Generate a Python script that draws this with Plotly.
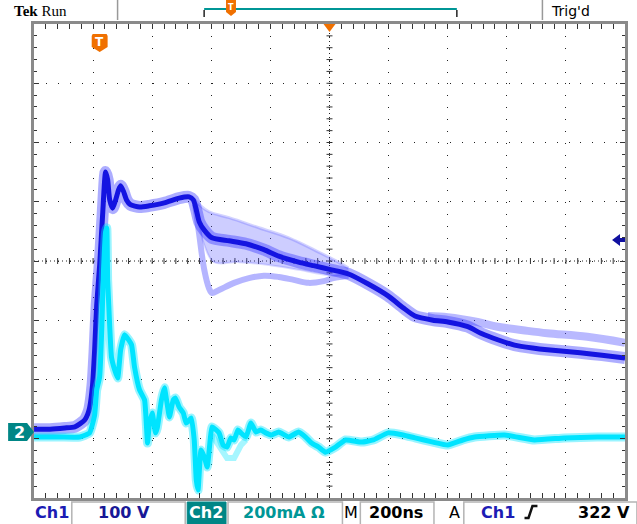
import plotly.graph_objects as go

# ---------------- data (time in ns relative to trigger) ----------------
# Ch1 (V) dense core of the persistence trace
ch1_t = [-222, -168, -118, -84, -67, -50, -40, -34, -24, -17, -10, 0, 10, 17, 20, 27, 34, 44, 54, 64,
         71, 81, 91, 104, 135, 168, 219, 269, 303, 317, 327, 337, 354, 380, 438, 495, 556, 606, 673,
         724, 785, 842, 909, 976, 1027, 1067, 1128, 1178, 1246, 1290, 1347, 1404, 1465, 1515, 1626,
         1700, 1778]
ch1_v = [3, 3, 5, 7, 12, 19, 29, 39, 78, 137, 213, 280, 365, 424, 437, 424, 390, 376, 390, 407,
         414, 404, 390, 382, 378, 380, 385, 393, 395, 390, 373, 353, 339, 326, 321, 316, 306, 295, 285,
         279, 272, 265, 248, 228, 208, 194, 187, 184, 176, 165, 154, 145, 140, 137, 132,
         128, 123]

# Ch1 faint spread region after the step (upper and lower envelope)
ch1_env_t = [323, 337, 370, 438, 539, 640, 741, 808, 842]
ch1_env_hi = [390, 382, 370, 360, 343, 326, 302, 285, 275]
ch1_env_lo_t = [323, 354, 387, 471, 572, 673, 774, 842]
ch1_env_lo = [382, 314, 285, 285, 280, 272, 263, 262]

# Ch1 faint lower branch
ch1_low_t = [323, 337, 354, 370, 380, 404, 455, 505, 556, 606, 657, 707, 758, 791, 842]
ch1_low_v = [382, 331, 272, 241, 233, 238, 250, 258, 262, 260, 255, 250, 253, 258, 262]

# Ch1 faint upper branch in the tail
ch1_tail_t = [1111, 1178, 1279, 1347, 1448, 1515, 1650, 1778]
ch1_tail_v = [194, 192, 184, 176, 169, 165, 159, 149]

# Ch2 (mA)
ch2_t = [-222, -135, -67, -34, -17, -10, 0, 7, 13, 20, 24, 27, 30, 40, 51, 61, 71, 84, 98, 108,
         118, 135, 152, 162, 168, 178, 189, 195, 209, 219, 229, 236, 249, 256, 269, 283, 293, 310,
         320, 327, 333, 343, 354, 364, 374, 380, 394, 404, 418, 431, 444, 455, 468, 478, 495, 512,
         529, 545, 562, 582, 606, 640, 673, 697, 717, 741, 764, 798, 832, 886, 926, 976, 1027, 1067,
         1128, 1178, 1229, 1269, 1370, 1471, 1572, 1684, 1778]
ch2_i = [-17, -17, -17, -3, 57, 142, 186, 344, 547, 675, 689, 513, 446, 253, 209, 182, 277, 328, 311, 294,
         219, 142, 108, -37, 24, 64, -3, 14, 108, 149, 91, 51, 108, 115, 84, 64, 30, 47,
         -27, -162, -196, -61, -84, -118, -27, 17, 7, -3, -44, -51, -20, -27, 7, -3, -17, 30,
         0, 7, -3, -10, 0, -17, 0, -17, -37, -51, -68, -51, -27, -34, -27, -3, -10, -20,
         -34, -44, -27, -17, -10, -27, -20, -17, -17]
ch2_faint_t = [380, 404, 431, 455, 478, 495]
ch2_faint_i = [-10, -44, -88, -88, -44, -27]

# ---------------- scope settings ----------------
T_RANGE = [-222.2, 1777.8]      # 10 div x 200 ns
V_RANGE = [-113.1, 686.9]       # 8 div x 100 V
I_RANGE = [-222.8, 1377.2]      # 8 div x 200 mA

W, H = 637, 524
PL, PR, PT, PB = 34, 628, 24, 498


def px(x):
    return (x - PL) / (PR - PL)


def py(y):
    return (PB - y) / (PB - PT)


fig = go.Figure()

CH2 = "rgb(0,228,255)"
# Ch2 traces
fig.add_trace(go.Scatter(x=ch2_faint_t, y=ch2_faint_i, yaxis="y2", mode="lines",
                         line=dict(color="rgba(0,228,255,0.35)", width=6), hoverinfo="skip"))
fig.add_trace(go.Scatter(x=ch2_t, y=ch2_i, yaxis="y2", mode="lines",
                         line=dict(color="rgba(0,228,255,0.4)", width=9, shape="spline", smoothing=0.4),
                         hoverinfo="skip"))
fig.add_trace(go.Scatter(x=ch2_t, y=ch2_i, yaxis="y2", mode="lines",
                         line=dict(color=CH2, width=5, shape="spline", smoothing=0.4), hoverinfo="skip"))

# Ch1 traces
fig.add_trace(go.Scatter(x=ch1_env_t, y=ch1_env_hi, mode="lines",
                         line=dict(color="rgba(80,80,255,0.25)", width=3, shape="spline"), hoverinfo="skip"))
fig.add_trace(go.Scatter(x=ch1_env_lo_t, y=ch1_env_lo, mode="lines", fill="tonexty",
                         fillcolor="rgba(90,90,255,0.3)",
                         line=dict(color="rgba(80,80,255,0.2)", width=2, shape="spline"), hoverinfo="skip"))
fig.add_trace(go.Scatter(x=ch1_low_t, y=ch1_low_v, mode="lines",
                         line=dict(color="rgba(90,90,255,0.45)", width=6, shape="spline"), hoverinfo="skip"))
fig.add_trace(go.Scatter(x=ch1_tail_t, y=ch1_tail_v, mode="lines",
                         line=dict(color="rgba(80,80,255,0.4)", width=8, shape="spline"), hoverinfo="skip"))
fig.add_trace(go.Scatter(x=ch1_t, y=ch1_v, mode="lines",
                         line=dict(color="rgba(50,50,255,0.4)", width=12, shape="spline", smoothing=0.6),
                         hoverinfo="skip"))
fig.add_trace(go.Scatter(x=ch1_t, y=ch1_v, mode="lines",
                         line=dict(color="rgb(20,20,225)", width=5, shape="spline", smoothing=0.6),
                         hoverinfo="skip"))

GRID_DASH = "1px,10.88px"
axis_common = dict(showticklabels=False, showline=True, linecolor="#8a8a8a", linewidth=3,
                   mirror="allticks", ticks="inside", ticklen=5, tickcolor="#333", tickwidth=1,
                   showgrid=True, gridcolor="#222", gridwidth=1, griddash=GRID_DASH,
                   zeroline=False, fixedrange=True)

shapes = []
# center cross hair with minor ticks
shapes.append(dict(type="line", xref="paper", yref="paper", x0=0, x1=1, y0=0.5, y1=0.5,
                   line=dict(color="#222", width=1, dash="1px,3px"), layer="below"))
shapes.append(dict(type="line", xref="paper", yref="paper", x0=0.5, x1=0.5, y0=0, y1=1,
                   line=dict(color="#222", width=1, dash="1px,3px"), layer="below"))
for k in range(1, 50):
    xx = k / 50
    shapes.append(dict(type="line", xref="paper", yref="paper", x0=xx, x1=xx,
                       y0=0.5 - 3 / 474, y1=0.5 + 3 / 474, line=dict(color="#333", width=1), layer="below"))
for k in range(1, 40):
    yy = k / 40
    shapes.append(dict(type="line", xref="paper", yref="paper", y0=yy, y1=yy,
                       x0=0.5 - 3 / 594, x1=0.5 + 3 / 594, line=dict(color="#333", width=1), layer="below"))


def path(points, fill, line_color=None, lw=0):
    d = "M " + " L ".join(f"{px(x):.5f},{py(y):.5f}" for x, y in points) + " Z"
    return dict(type="path", xref="paper", yref="paper", path=d, fillcolor=fill,
                line=dict(color=line_color or fill, width=lw), layer="above")


ORANGE = "rgb(240,112,0)"
TEAL = "rgb(0,134,134)"
# trigger position marker
shapes.append(path([(93, 34), (107, 34), (108, 36), (108, 47), (100, 52), (92, 47), (92, 36)], ORANGE))
# expansion point triangle
shapes.append(path([(325, 24), (337, 24), (331, 32)], ORANGE))
# trigger level arrow
shapes.append(path([(615, 240), (623, 234), (623, 238), (628, 238), (628, 242), (623, 242), (623, 246)],
                   "rgb(16,16,160)"))
# Ch2 ground marker
shapes.append(path([(8, 423), (27, 423), (34, 432), (27, 441), (8, 441)], TEAL))

# top bar
shapes.append(dict(type="line", xref="paper", yref="paper", x0=px(118), x1=px(118), y0=py(0), y1=py(20),
                   line=dict(color="#999", width=1.5)))
shapes.append(dict(type="line", xref="paper", yref="paper", x0=px(545), x1=px(545), y0=py(0), y1=py(20),
                   line=dict(color="#999", width=1.5)))
shapes.append(dict(type="line", xref="paper", yref="paper", x0=px(205), x1=px(459), y0=py(9), y1=py(9),
                   line=dict(color="rgb(0,150,150)", width=2)))
shapes.append(dict(type="line", xref="paper", yref="paper", x0=px(205), x1=px(205), y0=py(10), y1=py(17),
                   line=dict(color="#222", width=1.5)))
shapes.append(dict(type="line", xref="paper", yref="paper", x0=px(459), x1=px(459), y0=py(10), y1=py(17),
                   line=dict(color="#222", width=1.5)))
shapes.append(path([(227, 0), (237, 0), (237, 12), (232, 16), (227, 12)], ORANGE))

# bottom status bar boxes
for x0, x1 in [(72, 186), (229, 344), (362, 436), (466, 640)]:
    shapes.append(dict(type="rect", xref="paper", yref="paper", x0=px(x0), x1=px(x1), y0=py(502), y1=py(526),
                       line=dict(color="#b4b4b4", width=1.5), fillcolor="white"))
shapes.append(dict(type="rect", xref="paper", yref="paper", x0=px(188), x1=px(227), y0=py(502), y1=py(526),
                   line=dict(color=TEAL, width=1), fillcolor=TEAL))
# slope icon
shapes.append(dict(type="path", xref="paper", yref="paper",
                   path=f"M {px(527)},{py(518)} L {px(531)},{py(518)} L {px(535)},{py(506)} L {px(540)},{py(506)}",
                   line=dict(color="#111", width=2.5)))

FONT = "DejaVu Sans"
annotations = []


def txt(x, y, s, color="black", size=16, xanchor="center", bold=False):
    annotations.append(dict(xref="paper", yref="paper", x=px(x), y=py(y), text=f"<b>{s}</b>" if bold else s,
                            showarrow=False, xanchor=xanchor, yanchor="middle",
                            font=dict(family=FONT, size=size, color=color)))


txt(100, 42, "T", "white", 12, bold=True)
txt(19, 432, "2", "white", 16, bold=True)
txt(232, 7, "T", "white", 8, bold=True)
annotations.append(dict(xref="paper", yref="paper", x=px(12), y=py(1), text="<b>Tek</b> Run",
                        showarrow=False, xanchor="left", yanchor="top",
                        font=dict(family="Liberation Serif", size=15, color="black")))
annotations.append(dict(xref="paper", yref="paper", x=px(552), y=py(1), text="Trig'd",
                        showarrow=False, xanchor="left", yanchor="top",
                        font=dict(family=FONT, size=14, color="black")))

txt(33, 512, "Ch1", "rgb(28,28,180)", 16, xanchor="left", bold=True)
txt(124, 512, "100 V", "rgb(24,24,150)", 16, bold=True)
txt(207, 512, "Ch2", "white", 16, bold=True)
txt(285, 512, "200mA Ω", "rgb(0,150,150)", 16, bold=True)
txt(353, 512, "M", "black", 16)
txt(398, 512, "200ns", "black", 16, bold=True)
txt(457, 512, "A", "black", 16)
txt(500, 512, "Ch1", "rgb(28,28,180)", 16, bold=True)
txt(635, 512, "322 V", "black", 16, xanchor="right", bold=True)

fig.update_layout(
    width=W, height=H,
    margin=dict(l=PL, r=W - PR, t=PT, b=H - PB, pad=0),
    paper_bgcolor="white", plot_bgcolor="white",
    showlegend=False,
    xaxis=dict(range=T_RANGE, tick0=-22.2, dtick=200,
               minor=dict(tick0=-22.2, dtick=40, ticks="inside", ticklen=3, tickcolor="#333", showgrid=False),
               **axis_common),
    yaxis=dict(range=V_RANGE, tick0=-13.1, dtick=100,
               minor=dict(tick0=-13.1, dtick=20, ticks="inside", ticklen=3, tickcolor="#333", showgrid=False),
               **axis_common),
    yaxis2=dict(range=I_RANGE, overlaying="y", showticklabels=False, showgrid=False, zeroline=False,
                showline=False, ticks="", fixedrange=True),
    shapes=shapes,
    annotations=annotations,
)

fig.write_html("out.html")
